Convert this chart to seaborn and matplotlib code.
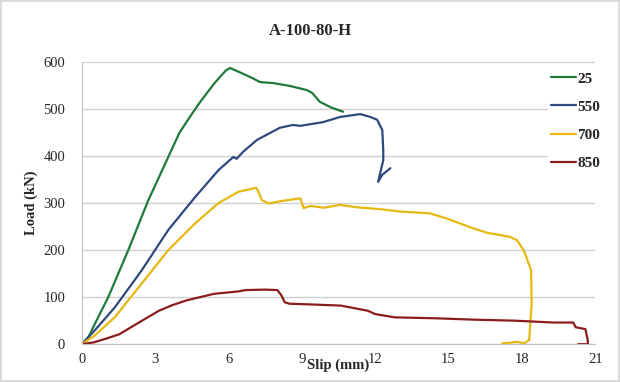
import matplotlib
matplotlib.use("Agg")
import matplotlib.pyplot as plt
import seaborn as sns
import pandas as pd

# slip (mm) / load (kN)
slip_25 = [0, 0.27, 0.54, 1.08, 1.9, 2.72, 3.2, 3.67, 4.0, 4.42, 4.8, 5.12, 5.4, 5.65, 5.9, 6.06,
           6.5, 7.0, 7.29, 7.82, 8.5, 9.21, 9.42, 9.74, 10.2, 10.69]
load_25 = [0, 15, 44, 100, 200, 306, 360, 413, 450, 483, 512, 534, 553, 568, 582, 587,
           577, 565, 557, 555, 549, 540, 534, 515, 503, 494]

slip_550 = [0, 0.54, 1.36, 2.45, 3.54, 4.64, 5.59, 6.2, 6.33, 6.6, 7.16, 8.1, 8.64, 8.93, 9.87,
            10.57, 11.39, 11.8, 12.08, 12.29, 12.33, 12.33, 12.12, 12.29, 12.62]
load_550 = [0, 30, 79, 157, 243, 313, 370, 398, 394, 409, 434, 460, 466, 464, 472,
            483, 489, 483, 477, 455, 413, 391, 345, 360, 374]

slip_700 = [0, 0.54, 1.36, 2.45, 3.54, 4.64, 5.59, 6.41, 7.1, 7.16, 7.37, 7.64, 8.25, 8.94, 9.07,
            9.35, 9.89, 10.57, 11.25, 12.2, 13.0, 14.25, 14.93, 16.02, 16.57, 17.52, 17.8, 18.07,
            18.2, 18.38, 18.4, 18.3, 18.1, 17.8, 17.5, 17.2]
load_700 = [0, 19, 58, 129, 200, 257, 300, 324, 332, 331, 306, 299, 305, 310, 289,
            294, 290, 296, 291, 287, 282, 278, 267, 246, 237, 228, 221, 200,
            183, 157, 87, 9, 2, 5, 3, 2]

slip_850 = [0, 0.5, 1.0, 1.53, 2.3, 3.15, 3.7, 4.28, 5.4, 6.38, 6.7, 7.5, 8.0, 8.16, 8.3, 8.5,
            9.6, 10.6, 10.9, 11.7, 12.0, 12.8, 14.5, 16.1, 17.7, 19.3, 20.1, 20.2, 20.6, 20.7,
            20.7, 20.3]
load_850 = [0, 4, 12, 21, 45, 71, 83, 93, 107, 112, 115, 116, 115, 104, 89, 86,
            84, 82, 79, 71, 64, 57, 55, 52, 50, 46, 46, 36, 32, 7,
            0, 0]

series = ["25", "550", "700", "850"]
colors = ["#1f7a3c", "#2e4a7d", "#e6b912", "#8b1c1c"]
slips = [slip_25, slip_550, slip_700, slip_850]
loads = [load_25, load_550, load_700, load_850]

sns.set_style("white")
plt.rcParams["font.family"] = ["Liberation Serif", "DejaVu Serif"]

fig = plt.figure(figsize=(6.2, 3.82), dpi=100)
fig.patch.set_edgecolor("#d9d9d9")
fig.patch.set_linewidth(1.5)
ax = fig.add_axes([0.132, 0.099, 0.828, 0.739])

for name, c, sx, ly in zip(series, colors, slips, loads):
    df = pd.DataFrame({"Slip": sx, "Load": ly})
    sns.lineplot(data=df, x="Slip", y="Load", sort=False, estimator=None,
                 color=c, linewidth=1.6, label=name, ax=ax)

ax.set_xlim(0, 21)
ax.set_ylim(0, 600)
ax.set_xticks(range(0, 22, 3))
ax.set_xticks(range(0, 22), minor=True)
ax.set_yticks(range(0, 601, 100))
ax.yaxis.grid(True, color="#d0d0d0", linewidth=1)
ax.set_axisbelow(True)
for s in ["top", "right"]:
    ax.spines[s].set_visible(False)
for s in ["left", "bottom"]:
    ax.spines[s].set_color("#bfbfbf")
ax.tick_params(axis="x", which="both", direction="in", length=4, color="#bfbfbf",
               labelsize=10.5, pad=6)
ax.tick_params(axis="y", length=0, labelsize=10.5, pad=12)

ax.set_xlabel("Slip (mm)", fontsize=10.5, fontweight="bold", labelpad=-5)
ax.set_ylabel("Load (kN)", fontsize=10.5, fontweight="bold", labelpad=4)
fig.text(0.5, 0.92, "A-100-80-H", ha="center", va="center", fontsize=12, fontweight="bold")

leg = ax.legend(loc="upper right", bbox_to_anchor=(0.985, 0.84), bbox_transform=fig.transFigure,
                frameon=True, edgecolor="none", framealpha=1, fontsize=11,
                handlelength=1.6, handletextpad=0.1, labelspacing=0.95, borderpad=0.2)
for t in leg.get_texts():
    t.set_fontweight("bold")

fig.savefig("out.png", dpi=100)
